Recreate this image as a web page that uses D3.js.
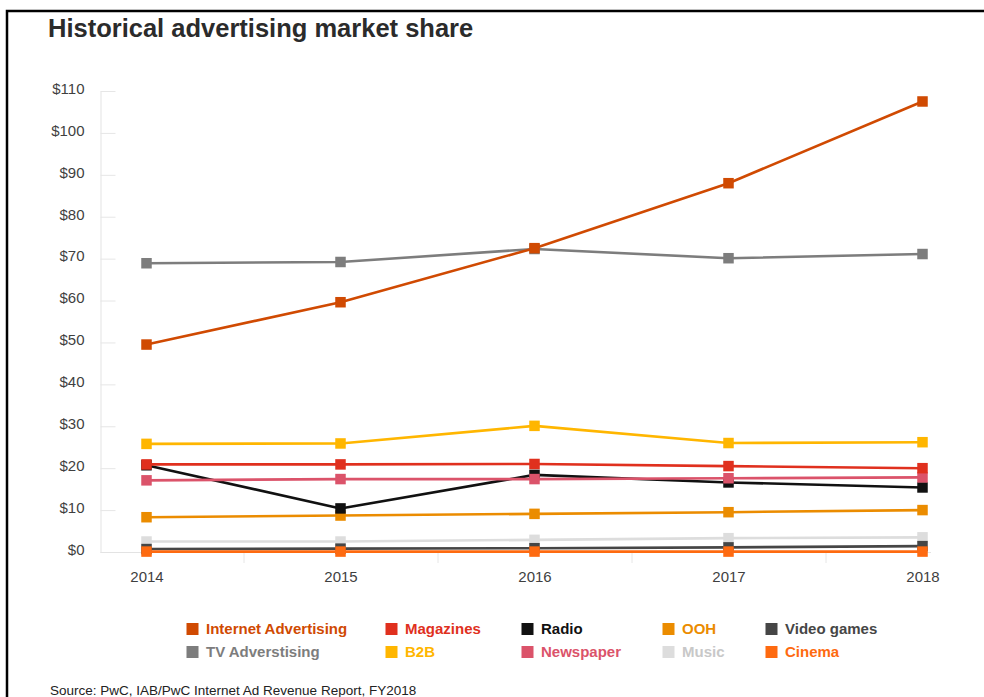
<!DOCTYPE html>
<html>
<head>
<meta charset="utf-8">
<script src="https://cdn.jsdelivr.net/npm/d3@7"></script>
<style>
  html, body { margin: 0; padding: 0; background: #fff; }
  svg { display: block; font-family: "Liberation Sans", Arial, Helvetica, sans-serif; }
</style>
</head>
<body>
<svg id="chart" width="984" height="697"></svg>
<script>
// Years on the x axis
const years = [2014, 2015, 2016, 2017, 2018];

// Revenue per channel, US$ billions
const internetAdvertising = [49.5, 59.6, 72.5, 88.0, 107.5];
const tvAdvertising       = [68.9, 69.2, 72.3, 70.1, 71.1];
const magazines           = [20.9, 20.9, 21.0, 20.5, 20.0];
const b2b                 = [25.8, 25.9, 30.1, 26.0, 26.2];
const radio               = [20.7, 10.4, 18.4, 16.6, 15.4];
const newspaper           = [17.1, 17.4, 17.4, 17.6, 17.8];
const ooh                 = [8.3, 8.7, 9.1, 9.5, 10.0];
const music               = [2.5, 2.5, 2.9, 3.3, 3.5];
const videoGames          = [0.7, 0.8, 0.9, 1.1, 1.4];
const cinema              = [0.1, 0.1, 0.1, 0.1, 0.1];

// Y axis ticks
const yTicks = [0, 10, 20, 30, 40, 50, 60, 70, 80, 90, 100, 110];

// Series definitions: name, values, colour (drawn in this order, last on top)
const series = [
  { name: "Music",                values: music,               color: "#DDDDDD" },
  { name: "Video games",          values: videoGames,          color: "#464646" },
  { name: "Cinema",               values: cinema,              color: "#FE6A10" },
  { name: "OOH",                  values: ooh,                 color: "#EB8C00" },
  { name: "Radio",                values: radio,               color: "#111111" },
  { name: "Newspaper",            values: newspaper,           color: "#DB536A" },
  { name: "Magazines",            values: magazines,           color: "#E0301E" },
  { name: "B2B",                  values: b2b,                 color: "#FFB600" },
  { name: "TV Adverstising",      values: tvAdvertising,       color: "#7D7D7D" },
  { name: "Internet Advertising", values: internetAdvertising, color: "#D04A02" }
];

// Legend layout: two rows, five columns
const legendOrder = [
  ["Internet Advertising", "Magazines", "Radio", "OOH", "Video games"],
  ["TV Adverstising", "B2B", "Newspaper", "Music", "Cinema"]
];
const legendTextColor = { "Music": "#C8C8C8" };

const svg = d3.select("#chart");

// Frame
svg.append("path")
  .attr("d", "M7,697 L7,11 L984,11")
  .attr("fill", "none")
  .attr("stroke", "#000")
  .attr("stroke-width", 2.5);

// Title
svg.append("text")
  .attr("x", 48).attr("y", 37)
  .attr("font-size", 25.5).attr("font-weight", "bold")
  .attr("fill", "#2b2b2b")
  .text("Historical advertising market share");

const axisLeftX = 100.5, axisRightX = 931, plotTop = 91, plotBottom = 552;

const x = d3.scaleLinear().domain([2014, 2018]).range([146.5, 922.5]);
const y = d3.scaleLinear().domain([0, 110]).range([plotBottom, plotTop]);

// Y axis: ticks point inward
const yAxis = svg.append("g")
  .attr("transform", `translate(${axisLeftX},0)`)
  .call(d3.axisLeft(y).tickValues(yTicks).tickSizeInner(-15).tickSizeOuter(0).tickPadding(16)
    .tickFormat(d => "$" + d));
yAxis.select(".domain").attr("stroke", "#e3e3e3");
yAxis.selectAll(".tick line").attr("stroke", "#e6e6e6");
yAxis.selectAll(".tick text")
  .attr("font-size", 15).attr("fill", "#3f3f3f")
  .attr("font-family", "Liberation Sans, Arial, sans-serif")
  .attr("y", -2.5);

// X axis baseline
svg.append("line")
  .attr("x1", axisLeftX).attr("x2", axisRightX)
  .attr("y1", plotBottom + 0.5).attr("y2", plotBottom + 0.5)
  .attr("stroke", "#e3e3e3");

// Minor ticks between years
const xMinor = svg.append("g")
  .attr("transform", `translate(0,${plotBottom})`)
  .call(d3.axisBottom(x).tickValues(d3.pairs(years).map(p => (p[0] + p[1]) / 2))
    .tickSize(11).tickFormat(""));
xMinor.select(".domain").remove();
xMinor.selectAll(".tick line").attr("stroke", "#e6e6e6");

// Year labels
const xAxis = svg.append("g")
  .attr("transform", `translate(0,${plotBottom})`)
  .call(d3.axisBottom(x).tickValues(years).tickSize(0).tickPadding(19.5).tickFormat(d3.format("d")));
xAxis.select(".domain").remove();
xAxis.selectAll(".tick text")
  .attr("font-size", 15).attr("fill", "#3f3f3f")
  .attr("font-family", "Liberation Sans, Arial, sans-serif");

// Lines and markers
const line = d3.line().x((d, i) => x(years[i])).y(d => y(d));
const markerSize = 10.5;

series.forEach(s => {
  const g = svg.append("g");
  g.append("path")
    .datum(s.values)
    .attr("d", line)
    .attr("fill", "none")
    .attr("stroke", s.color)
    .attr("stroke-width", 2.6)
    .attr("stroke-linejoin", "round");
  g.selectAll("rect")
    .data(s.values)
    .join("rect")
    .attr("x", (d, i) => x(years[i]) - markerSize / 2)
    .attr("y", d => y(d) - markerSize / 2)
    .attr("width", markerSize)
    .attr("height", markerSize)
    .attr("fill", s.color);
});

// Legend
const legendX = [206, 405, 541, 682, 785];
const legendY = [629, 652];
const byName = Object.fromEntries(series.map(s => [s.name, s]));
const legend = svg.append("g");
legendOrder.forEach((row, r) => {
  row.forEach((name, c) => {
    const s = byName[name];
    const item = legend.append("g")
      .attr("transform", `translate(${legendX[c]},${legendY[r]})`);
    item.append("rect")
      .attr("x", -19.5).attr("y", -6)
      .attr("width", 12).attr("height", 12)
      .attr("fill", s.color);
    item.append("text")
      .attr("x", 0).attr("y", 0)
      .attr("dy", "0.36em")
      .attr("font-size", 15).attr("font-weight", "bold")
      .attr("fill", legendTextColor[name] || s.color)
      .text(name);
  });
});

// Source note
svg.append("text")
  .attr("x", 50).attr("y", 695)
  .attr("font-size", 13.5).attr("fill", "#222")
  .text("Source: PwC, IAB/PwC Internet Ad Revenue Report, FY2018");
</script>
</body>
</html>
